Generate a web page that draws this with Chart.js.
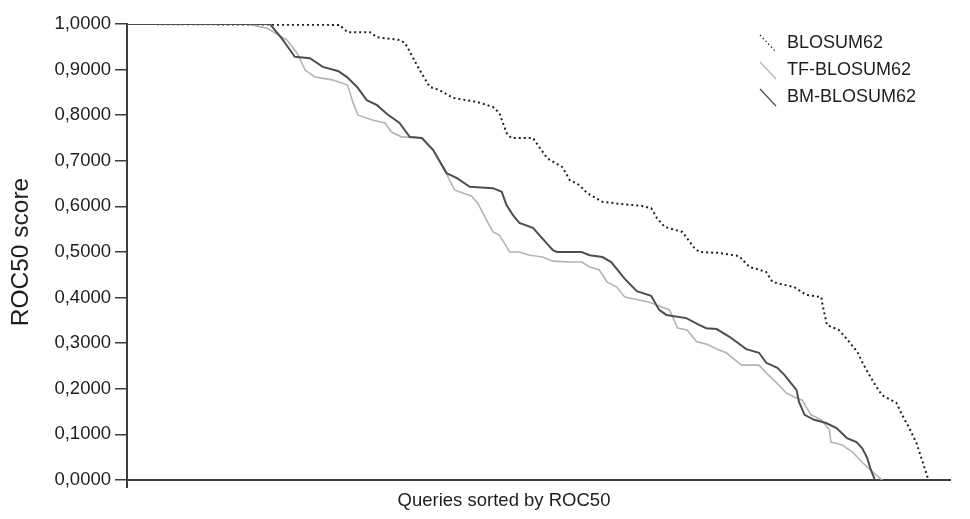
<!DOCTYPE html>
<html>
<head>
<meta charset="utf-8">
<script src="https://cdn.jsdelivr.net/npm/chart.js@4.4.1/dist/chart.umd.min.js"></script>
<style>
  html, body { margin: 0; padding: 0; background: #fff; }
  #wrap { width: 970px; height: 519px; position: relative; }
</style>
</head>
<body>
<div id="wrap"><canvas id="roc"></canvas></div>
<script>
// Queries sorted by ROC50: [query rank, ROC50 score] per substitution matrix
const BLOSUM62 = [
  [0, 1.000], [26.6, 0.998], [27.6, 0.982], [30.4, 0.982], [31.3, 0.971], [34.1, 0.965],
  [34.8, 0.958], [35.4, 0.939], [36.4, 0.906], [37.0, 0.888], [37.9, 0.862], [39.1, 0.855],
  [40.8, 0.838], [43.8, 0.829], [45.8, 0.818], [46.6, 0.805], [47.5, 0.761], [48.1, 0.750],
  [50.8, 0.750], [51.6, 0.730], [52.5, 0.708], [52.9, 0.702], [54.5, 0.686], [55.4, 0.658],
  [56.6, 0.647], [57.6, 0.629], [59.5, 0.610], [62.0, 0.605], [64.5, 0.601], [65.6, 0.596],
  [66.3, 0.575], [67.3, 0.555], [69.5, 0.544], [71.0, 0.509], [71.6, 0.500], [74.1, 0.498],
  [76.6, 0.491], [77.9, 0.467], [78.8, 0.463], [80.0, 0.456], [80.8, 0.434], [83.5, 0.423],
  [85.0, 0.406], [86.9, 0.401], [87.0, 0.388], [87.6, 0.340], [89.1, 0.329], [90.0, 0.311],
  [91.4, 0.281], [92.0, 0.259], [93.1, 0.224], [93.8, 0.204], [94.5, 0.186], [96.3, 0.169],
  [97.0, 0.143], [97.9, 0.114], [98.8, 0.081], [99.5, 0.044], [100.3, 0.000]
];

const TF_BLOSUM62 = [
  [0, 1.000], [15.0, 1.000], [17.5, 0.991], [20.0, 0.965], [21.3, 0.936], [22.3, 0.899],
  [23.5, 0.884], [25.8, 0.877], [27.6, 0.866], [28.3, 0.827], [28.9, 0.800], [30.8, 0.789],
  [32.3, 0.783], [33.1, 0.763], [34.4, 0.752], [35.6, 0.752], [36.9, 0.750], [38.3, 0.724],
  [40.0, 0.671], [41.0, 0.636], [41.6, 0.632], [43.1, 0.623], [43.9, 0.607], [45.0, 0.570],
  [45.8, 0.544], [46.6, 0.537], [47.9, 0.500], [49.1, 0.500], [50.4, 0.493], [52.0, 0.489],
  [53.3, 0.480], [55.4, 0.478], [56.9, 0.478], [57.9, 0.467], [59.1, 0.461], [60.1, 0.434],
  [61.3, 0.423], [62.3, 0.401], [62.9, 0.399], [65.4, 0.390], [66.3, 0.384], [67.9, 0.373],
  [68.9, 0.333], [70.1, 0.329], [71.3, 0.303], [72.5, 0.298], [74.1, 0.285], [75.0, 0.279],
  [76.9, 0.252], [79.1, 0.252], [80.0, 0.235], [81.3, 0.213], [82.5, 0.191], [83.5, 0.182],
  [84.5, 0.175], [85.6, 0.143], [86.9, 0.132], [87.9, 0.110], [88.1, 0.083], [89.5, 0.077],
  [90.8, 0.061], [92.0, 0.039], [93.3, 0.018], [94.5, 0.000]
];

const BM_BLOSUM62 = [
  [0, 1.000], [17.9, 1.000], [19.5, 0.965], [20.4, 0.943], [21.0, 0.928], [22.9, 0.925],
  [24.5, 0.906], [26.4, 0.897], [27.5, 0.884], [28.8, 0.862], [30.0, 0.833], [31.3, 0.822],
  [32.5, 0.803], [34.1, 0.783], [35.4, 0.752], [36.9, 0.750], [38.3, 0.724], [40.0, 0.673],
  [41.3, 0.662], [42.9, 0.643], [45.8, 0.640], [46.9, 0.632], [47.5, 0.603], [48.3, 0.581],
  [49.1, 0.564], [50.8, 0.553], [53.3, 0.504], [53.8, 0.500], [56.9, 0.500], [57.9, 0.493],
  [59.5, 0.489], [60.6, 0.478], [62.3, 0.441], [63.8, 0.414], [65.6, 0.404], [66.6, 0.373],
  [67.5, 0.362], [70.0, 0.355], [71.6, 0.340], [72.5, 0.333], [73.8, 0.331], [75.4, 0.314],
  [77.5, 0.287], [79.1, 0.279], [80.0, 0.257], [81.4, 0.246], [82.3, 0.230], [83.8, 0.197],
  [84.1, 0.171], [84.8, 0.143], [86.0, 0.132], [87.5, 0.125], [88.8, 0.114], [90.1, 0.092],
  [91.3, 0.083], [92.0, 0.070], [92.6, 0.050], [93.1, 0.022], [93.6, 0.000]
];

const SERIES_NAMES = ['BLOSUM62', 'TF-BLOSUM62', 'BM-BLOSUM62'];
const Y_TICKS = [0, 0.1, 0.2, 0.3, 0.4, 0.5, 0.6, 0.7, 0.8, 0.9, 1.0];
const QUERY_COUNT = 103;
const X_TITLE = 'Queries sorted by ROC50';
const Y_TITLE = 'ROC50 score';

const FONT = '"Liberation Sans", Arial, sans-serif';
const AXIS = '#3c3c3c';
const TEXT = '#1e1e1e';

const toPts = arr => arr.map(([x, y]) => ({ x, y }));

// decimal comma, four places
const fmtScore = v => v.toFixed(4).replace('.', ',');

// legend (short diagonal stroke per series, top right) and the x caption,
// which sits left of the axis centre
const slashLegend = {
  id: 'slashLegend',
  afterDraw(chart) {
    const ctx = chart.ctx;
    ctx.save();
    ctx.font = '18px ' + FONT;
    ctx.textBaseline = 'middle';
    ctx.fillStyle = TEXT;
    chart.data.datasets.forEach((ds, i) => {
      const y = 43 + i * 27;
      ctx.beginPath();
      ctx.strokeStyle = ds.borderColor;
      ctx.lineWidth = 1.2;
      ctx.setLineDash(ds.borderDash ? [1.5, 2.5] : []);
      ctx.moveTo(760, y - 8);
      ctx.lineTo(776, y + 9);
      ctx.stroke();
      ctx.setLineDash([]);
      ctx.fillText(ds.label, 787, y);
    });

    ctx.font = '18.5px ' + FONT;
    ctx.textAlign = 'center';
    ctx.fillText(X_TITLE, 504, chart.chartArea.bottom + 21);
    ctx.restore();
  }
};

new Chart(document.getElementById('roc'), {
  type: 'line',
  data: {
    datasets: [
      {
        label: SERIES_NAMES[0],
        data: toPts(BLOSUM62),
        borderColor: '#202020',
        borderWidth: 2,
        borderDash: [2, 3],
        order: 2
      },
      {
        label: SERIES_NAMES[1],
        data: toPts(TF_BLOSUM62),
        borderColor: '#b4b4b4',
        borderWidth: 1.6,
        order: 1
      },
      {
        label: SERIES_NAMES[2],
        data: toPts(BM_BLOSUM62),
        borderColor: '#4e4e4e',
        borderWidth: 2,
        order: 0
      }
    ]
  },
  options: {
    responsive: true, maintainAspectRatio: false,
    animation: false,
    layout: { padding: { top: 24, right: 20, bottom: 0, left: 0 } },
    elements: {
      point: { radius: 0, hoverRadius: 0 },
      line: { tension: 0 }
    },
    plugins: {
      legend: { display: false },
      tooltip: { enabled: false }
    },
    scales: {
      x: {
        type: 'linear',
        min: 0, max: QUERY_COUNT,
        border: { color: AXIS, width: 2 },
        grid: {
          drawOnChartArea: false,
          tickLength: 8,
          lineWidth: 2,
          color: c => (c.tick && c.tick.value === 0 ? AXIS : 'rgba(0,0,0,0)')
        },
        ticks: { display: false, stepSize: 10 },
        title: { display: false },
        afterFit: s => { s.height = 39; }
      },
      y: {
        min: 0, max: 1,
        border: { color: AXIS, width: 2 },
        grid: { drawOnChartArea: false, tickLength: 12, lineWidth: 1.5, color: AXIS },
        afterBuildTicks: s => { s.ticks = Y_TICKS.map(v => ({ value: v })); },
        ticks: {
          padding: 4,
          color: TEXT,
          font: { family: FONT, size: 18.5 },
          callback: v => fmtScore(v)
        },
        title: {
          display: true,
          text: Y_TITLE,
          color: TEXT,
          font: { family: FONT, size: 24.5 },
          padding: { top: 7, bottom: 0 }
        },
        afterFit: s => { s.width = 127; }
      }
    }
  },
  plugins: [slashLegend]
});
</script>
</body>
</html>
